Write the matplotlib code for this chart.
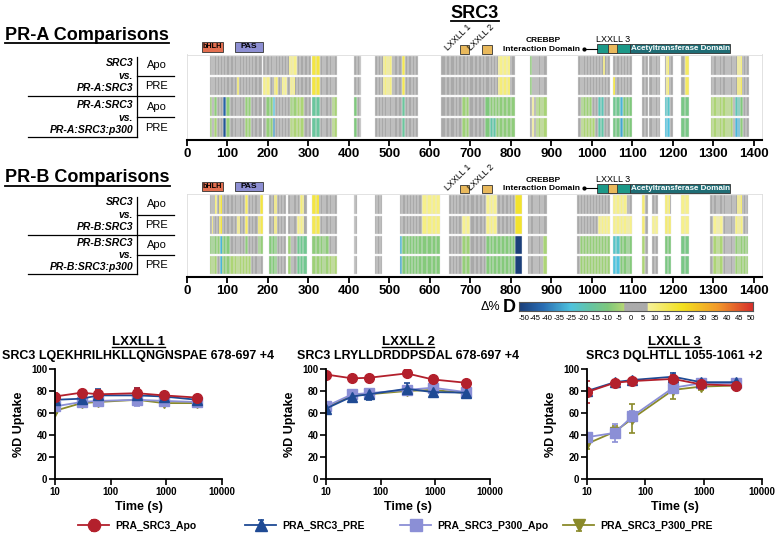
import numpy as np
import matplotlib
matplotlib.use("Agg")
import matplotlib.pyplot as plt
import matplotlib.transforms as mtransforms
from matplotlib.colors import LinearSegmentedColormap, Normalize
from matplotlib.lines import Line2D
from matplotlib.patches import Rectangle

plt.rcParams['font.family'] = ['Liberation Sans', 'DejaVu Sans']

W, H = 780, 535

# ---------------- heat map data (residue numbers, delta %D) ----------------
residue_ticks = list(range(0, 1401, 100))

# peptide boundaries inside each covered stretch
cover_a = [
    [57, 62, 67, 74, 81, 89, 96, 106, 115, 123, 128, 136, 143, 150, 158, 166, 175, 185],
    [188, 196, 205, 212, 218, 225, 232, 240, 247, 254],
    [256, 263, 272, 280, 290, 300, 305],
    [308, 318, 328, 335, 342, 350, 358, 364, 370],
    [412, 420, 426, 430],
    [465, 472, 480, 486, 494, 500, 506, 512, 520, 531, 538, 546, 556, 563, 570],
    [627, 640, 650, 662, 670, 679, 688, 697, 708, 718, 728, 736, 748, 756, 763, 770, 780, 790, 800, 810],
    [848, 852, 856, 862, 868, 874, 880, 889],
    [965, 972, 978, 985, 992, 1000, 1008, 1015, 1022, 1030, 1038, 1045],
    [1052, 1060, 1069, 1077, 1085, 1092, 1099],
    [1123, 1131, 1138],
    [1142, 1150, 1156, 1162, 1168],
    [1180, 1186, 1192, 1200],
    [1221, 1230, 1240],
    [1293, 1300, 1308, 1315, 1322, 1330, 1336, 1342, 1348, 1354, 1360, 1366, 1372, 1380, 1387],
]
cover_b = [
    [57, 62, 67, 74, 81, 89, 96, 106, 115, 123, 128, 136, 143, 150, 158, 166, 175, 180, 188],
    [202, 210, 217, 222, 230, 237, 244],
    [249, 256, 263, 272, 279, 286, 296],
    [309, 318, 328, 335, 342, 350, 358, 364, 370],
    [412, 416, 420],
    [464, 470, 476, 481],
    [526, 532, 540, 548, 556, 563, 570, 580, 592, 605, 615, 625],
    [647, 655, 662, 670, 679, 690, 699, 710, 722, 732, 738, 748, 756, 765, 775, 785, 795, 803, 810, 827],
    [842, 848, 856, 862, 868, 874, 880, 889],
    [963, 970, 978, 985, 992, 1000, 1008, 1015, 1022, 1030, 1038, 1044],
    [1052, 1060, 1069, 1077, 1086, 1092, 1099],
    [1123, 1131, 1138],
    [1148, 1156, 1163],
    [1180, 1187, 1195],
    [1220, 1230, 1240],
    [1291, 1300, 1308, 1315, 1323, 1330, 1336, 1342, 1348, 1354, 1360, 1366, 1372, 1380, 1386],
]

# peptides that changed (start, end, delta %D); everything else covered is ~0
diff_a_apo = [(252, 272, 7), (308, 328, 16), (484, 506, 8), (531, 538, 14), (768, 797, 7),
              (848, 852, -10), (1028, 1032, 12), (1183, 1191, 9), (1229, 1240, 12), (1358, 1370, 8)]
diff_a_pre = [(123, 128, 14), (188, 205, 7), (215, 225, 10), (234, 247, 6), (254, 267, 7),
              (308, 328, 16), (484, 506, 8), (531, 538, 14), (768, 797, 9), (848, 852, -10),
              (1052, 1057, 14), (1183, 1191, 9), (1229, 1240, 12), (1358, 1370, 12)]
diff_a_p300_apo = [(57, 62, -8), (67, 74, -10), (89, 96, -42), (96, 106, -10), (143, 158, -9),
                   (196, 212, -10), (212, 218, -28), (254, 272, -8), (272, 290, -6), (308, 328, -18),
                   (358, 370, -7), (412, 420, -12), (531, 538, -18), (679, 697, -8), (736, 748, -12),
                   (748, 810, -10), (852, 856, 7), (862, 889, -7), (972, 1000, -8), (1015, 1030, -22),
                   (1052, 1069, -16), (1069, 1077, -30), (1077, 1099, -12), (1180, 1192, -25),
                   (1221, 1240, -14), (1293, 1348, -6), (1354, 1366, -22), (1366, 1372, -12)]
diff_a_p300_pre = [(57, 62, -8), (67, 74, -7), (89, 96, -45), (96, 106, -9), (143, 158, -8),
                   (196, 212, -9), (212, 218, -34), (254, 290, -6), (308, 328, -18), (358, 370, -6),
                   (412, 420, -12), (531, 538, -18), (679, 697, -8), (736, 748, -12), (748, 763, -20),
                   (763, 810, -10), (852, 856, 7), (862, 889, -6), (972, 1008, -6), (1015, 1030, -20),
                   (1052, 1069, -14), (1069, 1077, -32), (1077, 1099, -12), (1180, 1192, -28),
                   (1221, 1240, -14), (1293, 1348, -6), (1354, 1366, -30), (1366, 1372, -10)]

diff_b_apo = [(69, 74, 8), (79, 86, 16), (143, 150, 12), (180, 188, 16), (215, 222, 12), (279, 289, 9),
              (309, 326, 16), (580, 625, 7), (738, 765, 6), (810, 827, 18), (1052, 1086, 7),
              (1123, 1131, 10), (1180, 1193, 9), (1220, 1240, 7), (1358, 1370, 10)]
diff_b_pre = [(62, 64, 12), (79, 86, 16), (123, 131, 10), (143, 150, 12), (175, 188, 14), (215, 222, 12),
              (272, 289, 7), (309, 328, 14), (580, 625, 8), (679, 699, 6), (738, 765, 7), (810, 827, 18),
              (1015, 1044, 7), (1052, 1099, 7), (1123, 1131, 10), (1148, 1163, 6), (1180, 1195, 10),
              (1220, 1240, 7), (1300, 1323, 6), (1354, 1372, 8)]
diff_b_p300_apo = [(57, 74, -10), (74, 81, -9), (81, 86, -30), (86, 106, -11), (143, 150, -10),
                   (175, 188, -9), (202, 222, -11), (249, 256, -8), (272, 296, -16), (309, 350, -10),
                   (526, 532, -30), (532, 625, -11), (679, 699, -8), (738, 810, -11), (810, 827, -50),
                   (880, 889, -7), (970, 1044, -9), (1052, 1069, -25), (1069, 1099, -11), (1123, 1131, -6),
                   (1180, 1195, -12), (1220, 1240, -14), (1300, 1323, -6), (1354, 1386, -9)]
diff_b_p300_pre = [(57, 74, -7), (81, 86, -30), (86, 106, -10), (106, 158, -6), (202, 222, -11),
                   (249, 256, -8), (272, 296, -16), (309, 350, -8), (350, 370, -6), (526, 532, -32),
                   (532, 625, -11), (679, 699, -9), (738, 810, -11), (810, 827, -50), (880, 889, -6),
                   (970, 1044, -8), (1052, 1069, -28), (1069, 1099, -11), (1123, 1131, -6),
                   (1180, 1195, -13), (1220, 1240, -14), (1300, 1323, -6), (1354, 1386, -8)]

cbar_labels = ["-50", "-45", "-40", "-35", "-25", "-20", "-15", "-10", "-5", "0",
               "5", "10", "15", "20", "25", "30", "35", "40", "45", "50"]

# ---------------- uptake curves ----------------
times = [10, 30, 60, 300, 900, 3600]
series = ["PRA_SRC3_Apo", "PRA_SRC3_PRE", "PRA_SRC3_P300_Apo", "PRA_SRC3_P300_PRE"]

l1_mean = [[75, 78.5, 77, 78, 76, 74], [72, 73, 76, 76, 75, 72],
           [66, 70, 71, 72, 71, 70], [62, 69, 70, 72, 69, 69]]
l1_err = [[3, 2, 4, 5, 2, 1.5], [5, 3, 6, 7, 3, 2], [3, 2, 2, 6, 2, 2], [2, 2, 2, 3, 2, 2]]
l2_mean = [[95, 91.5, 92, 96, 90.5, 87.5], [64, 75, 77, 82, 79, 78.5],
           [66, 77, 78, 81, 83, 79], [65, 76, 77, 80, 81, 78]]
l2_err = [[1, 1, 1, 2, 1, 1], [5, 2, 5, 5, 2, 1], [3, 2, 3, 3, 2, 2], [2, 2, 2, 2, 2, 2]]
l3_mean = [[79, 87.5, 89, 91, 86, 85], [80, 88, 90, 93, 88, 88],
           [38, 42, 57, 83, 87, 87], [32, 43, 55, 81, 84, 85]]
l3_err = [[10, 1, 1, 4, 4, 2], [3, 1, 1, 3, 2, 2], [3, 8, 5, 3, 2, 3], [5, 5, 13, 8, 3, 2]]

colors = ['#b3202c', '#1f4a94', '#8b8fd6', '#8a8a2a']
markers = ['o', '^', 's', 'v']

# ---------------- colour map ----------------
cmap = LinearSegmentedColormap.from_list('hdx', [
    (0.00, '#1b3f7a'), (0.10, '#2a6db3'), (0.22, '#4fc3de'), (0.30, '#64c5a6'),
    (0.38, '#7fc87c'), (0.449, '#b5d774'), (0.45, '#ababab'), (0.55, '#ababab'),
    (0.551, '#f6f29a'), (0.70, '#f3e11f'), (0.85, '#f39a2a'), (1.00, '#d7302b')])
norm = Normalize(-50, 50)
GRAY = '#a9a9a9'

fig = plt.figure(figsize=(7.8, 5.35), dpi=100)


def fx(px):
    return px / W


def fy(py):
    return 1 - py / H


def underline(t, lw=1.3):
    r = fig.canvas.get_renderer()
    bb = t.get_window_extent(renderer=r)
    y = bb.y0 + 1
    fig.add_artist(Line2D([bb.x0 / W, bb.x1 / W], [y / H, y / H], color='k', lw=lw))


def draw_heat(ax, cover, diffs):
    for r, d in enumerate(diffs):
        for seg in cover:
            ax.bar(seg[:-1], 0.9, width=np.diff(seg), bottom=r + 0.05, align='edge',
                   color=GRAY, linewidth=0)
        for s, e, v in d:
            ax.bar(s, 0.9, width=e - s, bottom=r + 0.05, align='edge',
                   color=cmap(norm(v)), linewidth=0)
        # thin light dividers between peptides
        for seg in cover:
            ax.bar(seg[:-1], 0.9, width=np.diff(seg), bottom=r + 0.05, align='edge',
                   color='none', edgecolor='#e4e4e4', linewidth=0.3)
    ax.set_xlim(0, 1420)
    ax.set_ylim(4.1, -0.02)
    ax.set_yticks([])
    ax.set_xticks(residue_ticks, [str(t) for t in residue_ticks], fontweight='bold')
    ax.tick_params(axis='x', length=4, width=1.3, labelsize=9.5, pad=1.5)
    for s in ['left', 'top', 'right']:
        ax.spines[s].set_color('#dddddd')
        ax.spines[s].set_linewidth(0.6)
    ax.spines['bottom'].set_linewidth(1.5)


def draw_domains(ax):
    trans = mtransforms.blended_transform_factory(ax.transData, ax.transAxes)
    h = ax.get_position().height * H

    def yo(d):
        return 1 + d / h

    boxes = [(37, 89, 3, 12, '#e36e4f', 'bHLH', 'k', 5.2),
             (118, 188, 3, 12, '#8d8fd3', 'PAS', 'k', 6),
             (674, 697, 1, 9.5, '#e9b95c', '', 'k', 6),
             (728, 753, 1, 9.5, '#e9b95c', '', 'k', 6),
             (1012, 1094, 1.5, 10.5, '#1d9988', '', 'k', 6),
             (1040, 1062, 1.5, 10.5, '#e9b95c', '', 'k', 6),
             (1094, 1341, 1.5, 10.5, '#1f6d75', 'Acetyltransferase Domain', 'white', 5.8)]
    for x0, x1, b, t, c, lab, tc, fs in boxes:
        ax.add_patch(Rectangle((x0, yo(b)), x1 - x0, yo(t) - yo(b), transform=trans,
                               facecolor=c, edgecolor='#333333', lw=0.6, clip_on=False))
        if lab:
            ax.text((x0 + x1) / 2, yo((b + t) / 2), lab, transform=trans, ha='center',
                    va='center', fontsize=fs, fontweight='bold', color=tc)
    for x, lab in [(649, 'LXXLL 1'), (704, 'LXXLL 2')]:
        ax.text(x, yo(2), lab, transform=trans, rotation=45, rotation_mode='anchor',
                ha='left', va='bottom', fontsize=6.3)
    ax.text(879, yo(14), 'CREBBP', transform=trans, ha='center', va='center',
            fontsize=6, fontweight='bold')
    ax.text(970, yo(5), 'Interaction Domain', transform=trans, ha='right', va='center',
            fontsize=6, fontweight='bold')
    ax.plot([980, 1012], [yo(6), yo(6)], transform=trans, color='k', lw=0.8, clip_on=False)
    ax.plot([980], [yo(6)], 'o', transform=trans, color='k', ms=2, clip_on=False)
    ax.text(1051, yo(14.5), 'LXXLL 3', transform=trans, ha='center', va='center', fontsize=6.5)


def draw_row_labels(ax, top_lines, bot_lines):
    trans = mtransforms.blended_transform_factory(fig.transFigure, ax.transData)
    for ys, lines in [((0.4, 1.0, 1.6), top_lines), ((2.42, 3.02, 3.6), bot_lines)]:
        for y, s in zip(ys, lines):
            fig.text(fx(133), y, s, transform=trans, ha='right', va='center',
                     fontsize=7.5, fontweight='bold', fontstyle='italic')
    for r, s in enumerate(['Apo', 'PRE', 'Apo', 'PRE']):
        fig.text(fx(157), r + 0.5, s, transform=trans, ha='center', va='center', fontsize=8)
    kw = dict(transform=trans, color='k', lw=0.9)
    fig.add_artist(Line2D([fx(137), fx(137)], [0.12, 3.95], **kw))
    fig.add_artist(Line2D([fx(137), fx(174)], [1.0, 1.0], **kw))
    fig.add_artist(Line2D([fx(28), fx(174)], [2.0, 2.0], **kw))
    fig.add_artist(Line2D([fx(137), fx(174)], [3.0, 3.0], **kw))
    fig.add_artist(Line2D([fx(28), fx(137)], [3.95, 3.95], **kw))


# ---------------- top: heat maps ----------------
t = fig.text(fx(475), fy(13), 'SRC3', ha='center', va='center', fontsize=13, fontweight='bold')
underline(t)
t = fig.text(fx(5), fy(35), 'PR-A Comparisons', ha='left', va='center', fontsize=13, fontweight='bold')
underline(t)
t = fig.text(fx(5), fy(178), 'PR-B Comparisons', ha='left', va='center', fontsize=13, fontweight='bold')
underline(t)

ax_a = fig.add_axes([fx(187), fy(140), 575 / W, 85.5 / H])
draw_heat(ax_a, cover_a, [diff_a_apo, diff_a_pre, diff_a_p300_apo, diff_a_p300_pre])
draw_domains(ax_a)
draw_row_labels(ax_a, ['SRC3', 'vs.', 'PR-A:SRC3'], ['PR-A:SRC3', 'vs.', 'PR-A:SRC3:p300'])

ax_b = fig.add_axes([fx(187), fy(277), 575 / W, 83 / H])
draw_heat(ax_b, cover_b, [diff_b_apo, diff_b_pre, diff_b_p300_apo, diff_b_p300_pre])
draw_domains(ax_b)
draw_row_labels(ax_b, ['SRC3', 'vs.', 'PR-B:SRC3'], ['PR-B:SRC3', 'vs.', 'PR-B:SRC3:p300'])

# colour bar
cax = fig.add_axes([fx(519), fy(311), 234 / W, 9 / H])
cax.imshow(np.linspace(-50, 50, 400)[None, :], aspect='auto', cmap=cmap, norm=norm,
           extent=[-50, 50, 0, 1])
cax.set_xticks([])
cax.set_yticks([])
for s in cax.spines.values():
    s.set_color('#555555')
    s.set_linewidth(0.8)
for x, lab in zip(np.linspace(0.02, 0.99, len(cbar_labels)), cbar_labels):
    cax.text(x, -0.45, lab, transform=cax.transAxes, ha='center', va='top', fontsize=5.5)
fig.text(fx(500), fy(307), '\u0394%', ha='right', va='center', fontsize=9)
fig.text(fx(503), fy(307), 'D', ha='left', va='center', fontsize=13, fontweight='bold')

# ---------------- bottom: uptake curves ----------------
panels = [
    (55, 222, 'LXXLL 1', 'SRC3 LQEKHRILHKLLQNGNSPAE 678-697 +4', l1_mean, l1_err),
    (326, 490, 'LXXLL 2', 'SRC3 LRYLLDRDDPSDAL 678-697 +4', l2_mean, l2_err),
    (587, 762, 'LXXLL 3', 'SRC3 DQLHTLL 1055-1061 +2', l3_mean, l3_err),
]
handles = []
for x0, x1, title, sub, mean, err in panels:
    ax = fig.add_axes([fx(x0), fy(479), (x1 - x0) / W, 110 / H])
    hs = [None] * 4
    for i in [3, 2, 1, 0]:
        hs[i] = ax.errorbar(times, mean[i], yerr=err[i], color=colors[i], marker=markers[i],
                            ms=7, lw=1.3, elinewidth=1.2, capsize=2.5, capthick=1.2)
    handles = hs
    ax.set_xscale('log')
    ax.set_xlim(10, 10000)
    ax.set_ylim(0, 100)
    ax.set_xticks([10, 100, 1000, 10000], ['10', '100', '1000', '10000'], fontweight='bold')
    ax.set_yticks([0, 20, 40, 60, 80, 100], ['0', '20', '40', '60', '80', '100'], fontweight='bold')
    ax.minorticks_off()
    ax.tick_params(length=4, width=1.2, labelsize=7, pad=1.5)
    for s in ['top', 'right']:
        ax.spines[s].set_visible(False)
    for s in ['left', 'bottom']:
        ax.spines[s].set_linewidth(1.3)
    ax.set_xlabel('Time (s)', fontsize=9, fontweight='bold', labelpad=3)
    ax.set_ylabel('%D Uptake', fontsize=9, fontweight='bold')
    ax.yaxis.set_label_coords(-30 / (x1 - x0), 0.5)
    cx = fx((x0 + x1) / 2)
    tt = fig.text(cx, fy(342), title, ha='center', va='center', fontsize=9.5, fontweight='bold')
    underline(tt, lw=1.0)
    fig.text(cx, fy(356), sub, ha='center', va='center', fontsize=9, fontweight='bold')

# legend, one entry per slot
for x, h, lab in zip([78, 245, 400, 563], handles, series):
    fig.legend([h], [lab], loc='center left', bbox_to_anchor=(fx(x), fy(526)), frameon=False,
               prop={'size': 7.5, 'weight': 'bold'}, handlelength=3.0, handletextpad=0.6,
               borderpad=0, borderaxespad=0, markerscale=1.25)

fig.savefig('out.png', dpi=100)
